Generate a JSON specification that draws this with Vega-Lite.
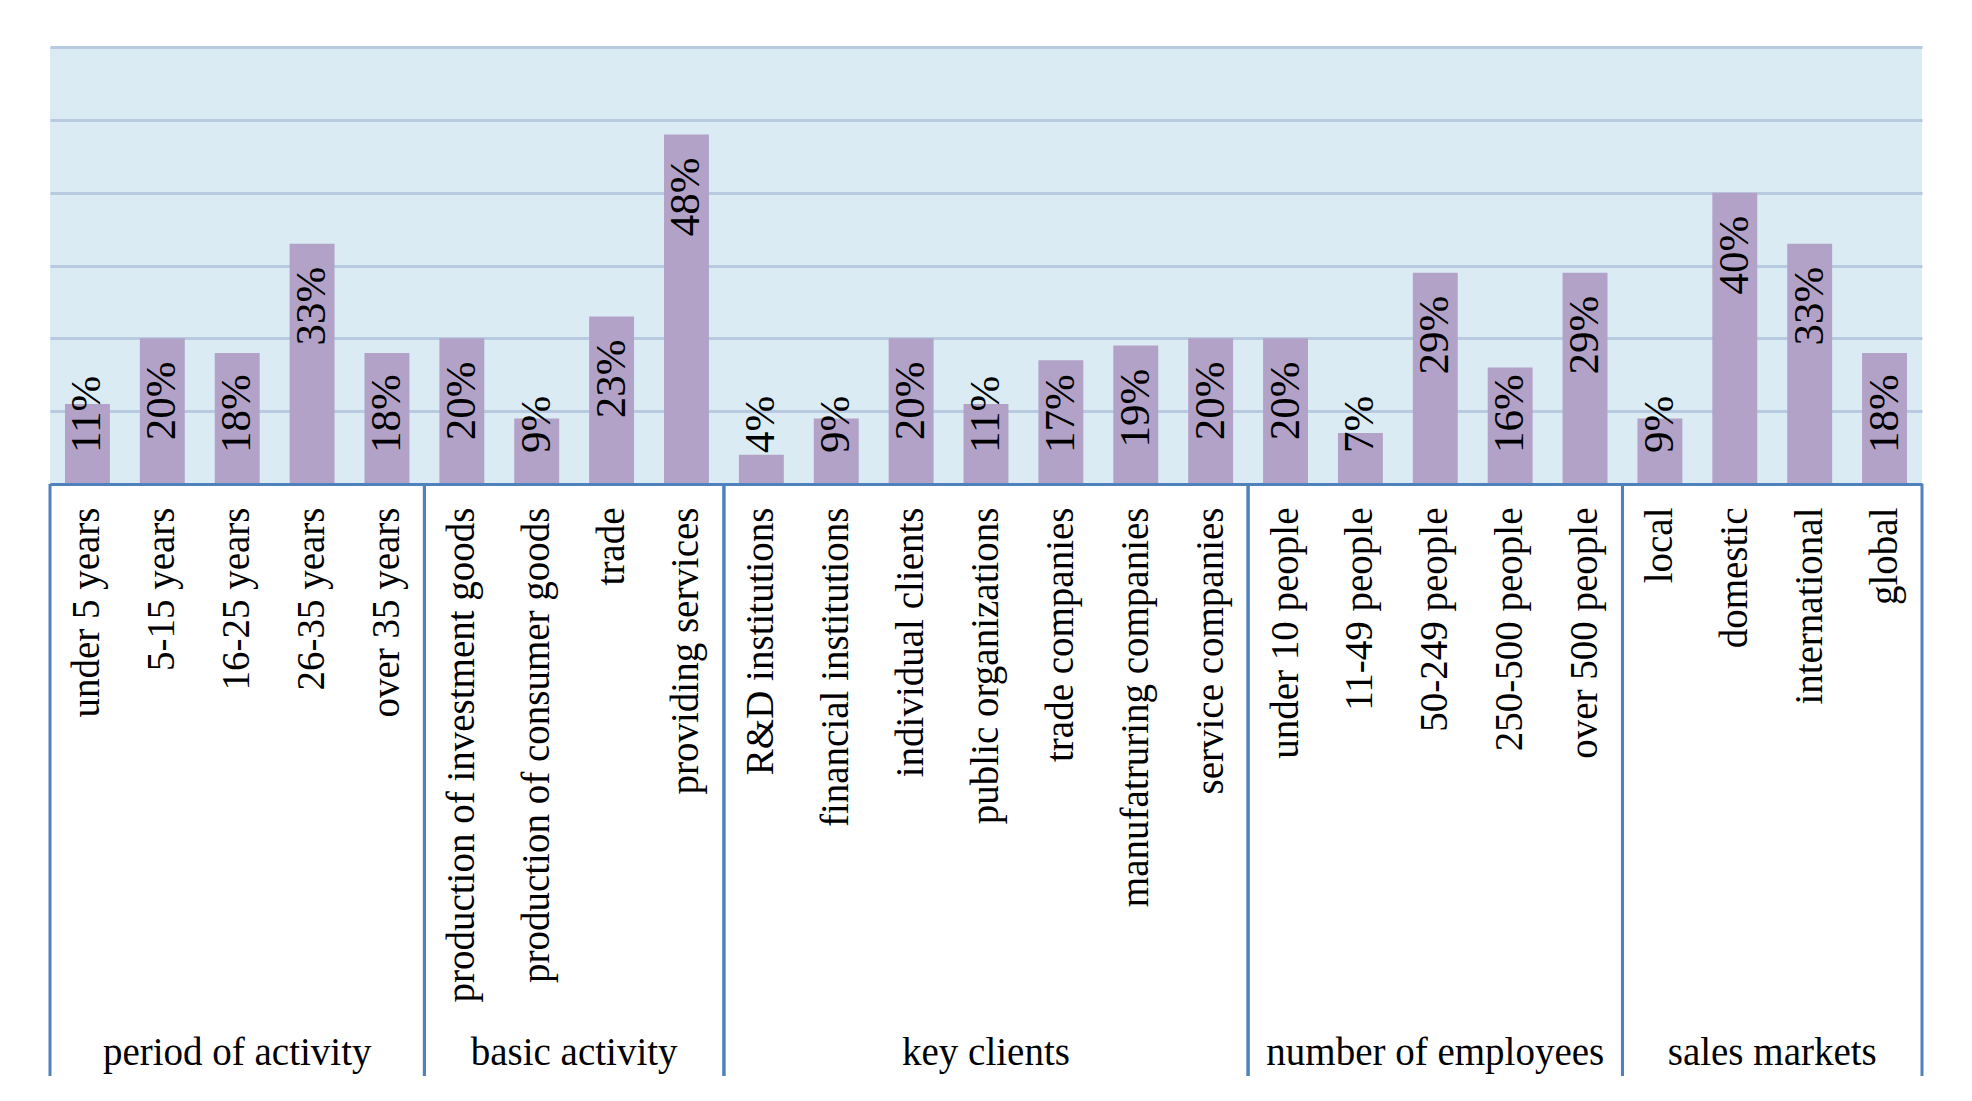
{
  "$schema": "https://vega.github.io/schema/vega-lite/v6.json",
  "autosize": {"type": "none"},
  "width": 1872,
  "height": 437,
  "padding": {"left": 50, "top": 47, "right": 50, "bottom": 617},
  "background": "white",
  "config": {
    "view": {"fill": "#dbebf4", "stroke": null},
    "font": "Liberation Serif",
    "text": {"font": "Liberation Serif", "fontSize": 39, "color": "black"},
    "axis": {"labelFont": "Liberation Serif"}
  },
  "data": {
    "values": [
      {"group": "period of activity", "cat": "under 5 years", "value": 0.11},
      {"group": "period of activity", "cat": "5-15 years", "value": 0.20},
      {"group": "period of activity", "cat": "16-25 years", "value": 0.18},
      {"group": "period of activity", "cat": "26-35 years", "value": 0.33},
      {"group": "period of activity", "cat": "over 35 years", "value": 0.18},
      {"group": "basic activity", "cat": "production of investment goods", "value": 0.20},
      {"group": "basic activity", "cat": "production of consumer goods", "value": 0.09},
      {"group": "basic activity", "cat": "trade", "value": 0.23},
      {"group": "basic activity", "cat": "providing services", "value": 0.48},
      {"group": "key clients", "cat": "R&D institutions", "value": 0.04},
      {"group": "key clients", "cat": "financial institutions", "value": 0.09},
      {"group": "key clients", "cat": "individual clients", "value": 0.20},
      {"group": "key clients", "cat": "public organizations", "value": 0.11},
      {"group": "key clients", "cat": "trade companies", "value": 0.17},
      {"group": "key clients", "cat": "manufatruring companies", "value": 0.19},
      {"group": "key clients", "cat": "service companies", "value": 0.20},
      {"group": "number of employees", "cat": "under 10 people", "value": 0.20},
      {"group": "number of employees", "cat": "11-49 people", "value": 0.07},
      {"group": "number of employees", "cat": "50-249 people", "value": 0.29},
      {"group": "number of employees", "cat": "250-500 people", "value": 0.16},
      {"group": "number of employees", "cat": "over 500 people", "value": 0.29},
      {"group": "sales markets", "cat": "local", "value": 0.09},
      {"group": "sales markets", "cat": "domestic", "value": 0.40},
      {"group": "sales markets", "cat": "international", "value": 0.33},
      {"group": "sales markets", "cat": "global", "value": 0.18}
    ]
  },
  "transform": [
    {"window": [{"op": "row_number", "as": "r"}], "groupby": ["group"]},
    {"joinaggregate": [{"op": "count", "as": "n"}], "groupby": ["group"]}
  ],
  "encoding": {
    "x": {
      "field": "cat", "type": "nominal", "sort": null,
      "scale": {"domain": ["under 5 years", "5-15 years", "16-25 years", "26-35 years", "over 35 years", "production of investment goods", "production of consumer goods", "trade", "providing services", "R&D institutions", "financial institutions", "individual clients", "public organizations", "trade companies", "manufatruring companies", "service companies", "under 10 people", "11-49 people", "50-249 people", "250-500 people", "over 500 people", "local", "domestic", "international", "global"], "paddingInner": 0, "paddingOuter": 0},
      "axis": {
        "title": null, "labelAngle": 270,
        "labelFont": "Liberation Serif", "labelFontSize": 39, "labelColor": "black",
        "labelPadding": 23, "labelLimit": 2000,
        "ticks": false, "domainColor": "#4f81bd", "domainWidth": 3, "zindex": 1
      }
    }
  },
  "layer": [
    {
      "mark": {"type": "bar", "width": {"band": 0.6}, "color": "#b3a2c7"},
      "encoding": {
        "y": {
          "field": "value", "type": "quantitative",
          "scale": {"domain": [0, 0.6], "nice": false},
          "axis": {"values": [0, 0.1, 0.2, 0.3, 0.4, 0.5, 0.6], "labels": false, "ticks": false, "domain": false, "title": null, "grid": true, "gridColor": "#b7cae0", "gridWidth": 3}
        }
      }
    },
    {
      "transform": [{"filter": "datum.value >= 0.185"}],
      "mark": {"type": "text", "angle": 270, "align": "right", "baseline": "middle", "dx": -23, "font": "Liberation Serif", "fontSize": 43, "color": "black"},
      "encoding": {
        "y": {"field": "value", "type": "quantitative"},
        "text": {"field": "value", "type": "quantitative", "format": ".0%"}
      }
    },
    {
      "transform": [{"filter": "datum.value < 0.185"}],
      "mark": {"type": "text", "angle": 270, "align": "left", "baseline": "middle", "dx": 31, "font": "Liberation Serif", "fontSize": 43, "color": "black"},
      "encoding": {
        "y": {"datum": 0, "type": "quantitative"},
        "text": {"field": "value", "type": "quantitative", "format": ".0%"}
      }
    },
    {
      "transform": [{"filter": "datum.r === 1"}],
      "mark": {"type": "rule", "color": "#4f81bd", "strokeWidth": 3},
      "encoding": {
        "x": {"field": "cat", "type": "nominal", "sort": null, "bandPosition": 0},
        "y": {"datum": 0, "type": "quantitative"},
        "y2": {"datum": -0.8128}
      }
    },
    {
      "transform": [{"filter": "datum.r === datum.n"}],
      "mark": {"type": "rule", "color": "#4f81bd", "strokeWidth": 3},
      "encoding": {
        "x": {"field": "cat", "type": "nominal", "sort": null, "bandPosition": 1},
        "y": {"datum": 0, "type": "quantitative"},
        "y2": {"datum": -0.8128}
      }
    },
    {
      "transform": [{"filter": "datum.n % 2 === 1 && datum.r === (datum.n + 1) / 2"}],
      "mark": {"type": "text", "align": "center", "baseline": "alphabetic", "font": "Liberation Serif", "fontSize": 39, "color": "black"},
      "encoding": {
        "y": {"datum": -0.7977, "type": "quantitative"},
        "text": {"field": "group", "type": "nominal"}
      }
    },
    {
      "transform": [{"filter": "datum.n % 2 === 0 && datum.r === datum.n / 2 + 1"}],
      "mark": {"type": "text", "align": "center", "baseline": "alphabetic", "font": "Liberation Serif", "fontSize": 39, "color": "black"},
      "encoding": {
        "x": {"field": "cat", "type": "nominal", "sort": null, "bandPosition": 0},
        "y": {"datum": -0.7977, "type": "quantitative"},
        "text": {"field": "group", "type": "nominal"}
      }
    }
  ]
}
